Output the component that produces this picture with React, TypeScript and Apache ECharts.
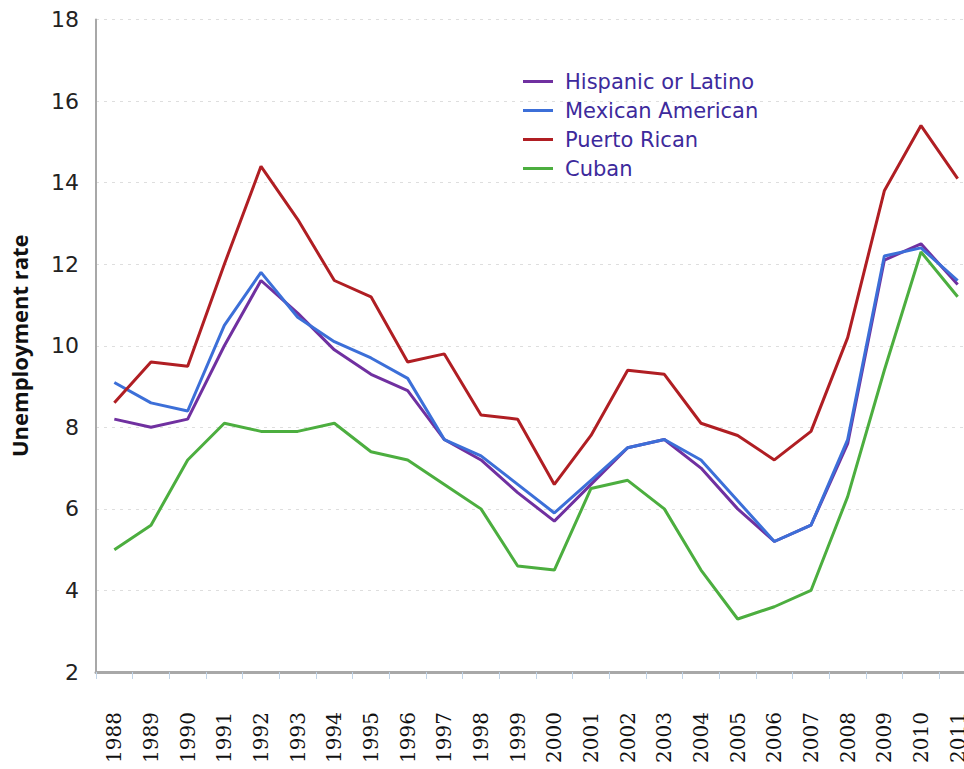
import React, { useEffect, useRef } from "react";
import * as echarts from "echarts";

const years = ["1988","1989","1990","1991","1992","1993","1994","1995","1996","1997","1998","1999","2000","2001","2002","2003","2004","2005","2006","2007","2008","2009","2010","2011"];

const hispanic = [8.2, 8.0, 8.2, 10.0, 11.6, 10.8, 9.9, 9.3, 8.9, 7.7, 7.2, 6.4, 5.7, 6.6, 7.5, 7.7, 7.0, 6.0, 5.2, 5.6, 7.6, 12.1, 12.5, 11.5];
const mexican = [9.1, 8.6, 8.4, 10.5, 11.8, 10.7, 10.1, 9.7, 9.2, 7.7, 7.3, 6.6, 5.9, 6.7, 7.5, 7.7, 7.2, 6.2, 5.2, 5.6, 7.7, 12.2, 12.4, 11.6];
const puertoRican = [8.6, 9.6, 9.5, 12.0, 14.4, 13.1, 11.6, 11.2, 9.6, 9.8, 8.3, 8.2, 6.6, 7.8, 9.4, 9.3, 8.1, 7.8, 7.2, 7.9, 10.2, 13.8, 15.4, 14.1];
const cuban = [5.0, 5.6, 7.2, 8.1, 7.9, 7.9, 8.1, 7.4, 7.2, 6.6, 6.0, 4.6, 4.5, 6.5, 6.7, 6.0, 4.5, 3.3, 3.6, 4.0, 6.3, 9.4, 12.3, 11.2];

const seriesNames = ["Hispanic or Latino", "Mexican American", "Puerto Rican", "Cuban"];
const seriesColors = ["#7030a0", "#3c6fd8", "#b01e23", "#4cae3f"];
const seriesData = [hispanic, mexican, puertoRican, cuban];

export default function App() {
  const ref = useRef<HTMLDivElement>(null);
  useEffect(() => {
    if (!ref.current) return;
    const chart = echarts.init(ref.current, null, { renderer: "svg" });
    chart.setOption({
      animation: false,
      backgroundColor: "#ffffff",
      grid: { left: 95, top: 19.5, bottom: 97, right: 4, containLabel: false },
      legend: {
        orient: "vertical",
        left: 523,
        top: 71,
        padding: 0,
        icon: "rect",
        itemWidth: 30,
        itemHeight: 3,
        itemGap: 8,
        data: seriesNames,
        textStyle: {
          fontFamily: "DejaVu Sans",
          fontSize: 21,
          color: "#3d2a9c",
          lineHeight: 20,
          padding: [0, 0, 0, 7],
        },
      },
      xAxis: {
        type: "category",
        data: years,
        boundaryGap: true,
        axisLine: { show: true, lineStyle: { color: "#a8a8a8", width: 3 } },
        axisTick: { show: true, length: 7, lineStyle: { color: "#c0d4e8", width: 1 } },
        axisLabel: {
          rotate: 90,
          margin: 40,
          interval: 0,
          fontFamily: "DejaVu Serif",
          fontSize: 20,
          color: "#111111",
        },
        splitLine: { show: false },
      },
      yAxis: {
        type: "value",
        min: 2,
        max: 18,
        interval: 2,
        name: "Unemployment rate",
        nameLocation: "middle",
        nameGap: 66,
        nameRotate: 90,
        nameTextStyle: {
          fontFamily: "Open Sans",
          fontWeight: "bold",
          fontSize: 22,
          color: "#111111",
        },
        axisLine: { show: true, lineStyle: { color: "#a8a8a8", width: 2 } },
        axisTick: { show: false },
        axisLabel: {
          margin: 17,
          fontFamily: "DejaVu Sans",
          fontSize: 22,
          color: "#222222",
        },
        splitLine: { show: true, lineStyle: { color: "#dedede", width: 1, type: [3, 5] } },
      },
      series: seriesNames.map((name, i) => ({
        name,
        type: "line",
        data: seriesData[i],
        symbol: "none",
        color: seriesColors[i],
        lineStyle: { width: 3, color: seriesColors[i] },
      })),
    });
    return () => chart.dispose();
  }, []);
  return (
    <div
      style={{ position: "fixed", left: 0, top: 0, width: 964, height: 769, overflow: "hidden" }}
    >
      <div ref={ref} style={{ width: 980, height: 769 }} />
    </div>
  );
}
